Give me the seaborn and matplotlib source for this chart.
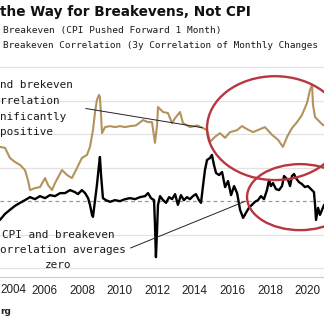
import matplotlib
matplotlib.use("Agg")
import matplotlib.pyplot as plt
from matplotlib.patches import Ellipse
import pandas as pd
import seaborn as sns

# Breakeven series (CPI pushed forward 1 month), decimal year / chart units
breakeven_year = [2003.63, 2003.90, 2004.16, 2004.43, 2004.70, 2004.96, 2005.12, 2005.23, 2005.49, 2005.76,
                  2006.03, 2006.19, 2006.40, 2006.56, 2006.93, 2007.20, 2007.46, 2007.73, 2007.99, 2008.26,
                  2008.42, 2008.58, 2008.69, 2008.79, 2008.90, 2008.95, 2009.01, 2009.06, 2009.22, 2009.49,
                  2009.75, 2010.02, 2010.29, 2010.55, 2010.87, 2011.24, 2011.51, 2011.72, 2011.88, 2011.99,
                  2012.04, 2012.31, 2012.57, 2012.79, 2012.95, 2013.21, 2013.37, 2013.74, 2014.12, 2014.44,
                  2014.65, 2014.81, 2015.07, 2015.34, 2015.61, 2015.87, 2016.25, 2016.51, 2016.78, 2017.10,
                  2017.47, 2017.73, 2018.11, 2018.43, 2018.69, 2018.91, 2019.17, 2019.44, 2019.70, 2019.97,
                  2020.13, 2020.24, 2020.29, 2020.40, 2020.61, 2020.82, 2020.88]
breakeven_level = [1.63, 1.60, 1.30, 1.18, 1.09, 0.94, 0.64, 0.34, 0.40, 0.43,
                   0.70, 0.49, 0.34, 0.55, 0.94, 0.79, 0.70, 1.00, 1.30, 1.39,
                   1.63, 2.13, 2.67, 3.03, 3.18, 3.12, 2.58, 2.04, 2.22, 2.25,
                   2.22, 2.25, 2.22, 2.25, 2.27, 2.43, 2.37, 2.37, 1.75, 2.27,
                   2.82, 2.67, 2.64, 2.34, 2.49, 2.67, 2.34, 2.22, 2.27, 2.19,
                   2.13, 1.78, 1.93, 2.04, 1.90, 2.07, 2.13, 2.25, 2.16, 2.07,
                   2.16, 2.22, 1.99, 1.84, 1.63, 1.93, 2.19, 2.37, 2.58, 2.94,
                   3.33, 3.48, 2.88, 2.52, 2.40, 2.28, 2.28]

# Breakeven correlation (3y correlation of monthly changes)
corr_year = [2003.63, 2003.90, 2004.16, 2004.43, 2004.70, 2004.96, 2005.23, 2005.49, 2005.76, 2006.03,
             2006.29, 2006.56, 2006.83, 2007.09, 2007.36, 2007.62, 2007.78, 2007.99, 2008.16, 2008.32,
             2008.42, 2008.53, 2008.58, 2008.69, 2008.79, 2008.90, 2008.95, 2009.01, 2009.11, 2009.27,
             2009.49, 2009.75, 2010.02, 2010.29, 2010.55, 2010.82, 2011.08, 2011.35, 2011.51, 2011.67,
             2011.83, 2011.88, 2011.93, 2011.99, 2012.04, 2012.15, 2012.31, 2012.47, 2012.63, 2012.79,
             2012.95, 2013.10, 2013.26, 2013.42, 2013.58, 2013.74, 2013.90, 2014.06, 2014.22, 2014.33,
             2014.44, 2014.54, 2014.65, 2014.81, 2014.91, 2015.02, 2015.13, 2015.29, 2015.45, 2015.61,
             2015.77, 2015.93, 2016.09, 2016.25, 2016.41, 2016.57, 2016.72, 2016.88, 2017.04, 2017.20,
             2017.36, 2017.52, 2017.68, 2017.84, 2017.95, 2018.05, 2018.16, 2018.32, 2018.48, 2018.64,
             2018.75, 2018.85, 2018.96, 2019.07, 2019.17, 2019.28, 2019.38, 2019.54, 2019.70, 2019.86,
             2020.02, 2020.18, 2020.34, 2020.40, 2020.45, 2020.56, 2020.66, 2020.77, 2020.88]
corr_value = [-0.55, -0.37, -0.25, -0.13, -0.04, 0.04, 0.13, 0.07, 0.16, 0.10,
              0.19, 0.16, 0.25, 0.25, 0.34, 0.28, 0.22, 0.34, 0.25, 0.10,
              -0.10, -0.40, -0.46, 0.04, 0.49, 1.09, 1.33, 0.79, 0.10, 0.04,
              -0.01, 0.04, 0.01, 0.07, 0.10, 0.07, 0.13, 0.16, 0.25, 0.10,
              0.04, -0.70, -1.66, -0.85, -0.10, 0.16, 0.04, -0.04, 0.13, 0.07,
              0.22, -0.10, 0.19, 0.04, 0.13, 0.07, 0.16, 0.22, 0.04, -0.04,
              0.49, 0.94, 1.24, 1.30, 1.39, 1.09, 0.85, 0.79, 0.88, 0.43,
              0.61, 0.19, 0.46, 0.25, -0.25, -0.49, -0.34, -0.19, -0.10, -0.01,
              0.04, 0.16, 0.07, 0.34, 0.64, 0.46, 0.55, 0.37, 0.34, 0.46,
              0.76, 0.70, 0.64, 0.46, 0.76, 0.82, 0.70, 0.58, 0.52, 0.43,
              0.46, 0.37, 0.28, -0.10, -0.55, -0.19, -0.40, -0.25, -0.10]

tick_years = [2004, 2006, 2008, 2010, 2012, 2014, 2016, 2018, 2020]
grid_levels = [-2, -1, 1, 2, 3, 4]

GOLD = "#b4925e"
RED = "#b8363f"

sns.set_theme(style="white")
plt.rcParams["font.family"] = ["DejaVu Sans"]

W, H = 324, 328
fig = plt.figure(figsize=(W / 100, H / 100), dpi=100)
ax = fig.add_axes([0, 51 / H, 1, 222 / H])

be = pd.DataFrame({"year": breakeven_year, "value": breakeven_level})
co = pd.DataFrame({"year": corr_year, "value": corr_value})

for lvl in grid_levels:
    ax.axhline(lvl, color="#e2e2e2", lw=0.9, zorder=0)
ax.axhline(0, color="#9a9a9a", lw=0.9, ls=(0, (3, 2.5)), zorder=0)

sns.lineplot(data=be, x="year", y="value", ax=ax, color=GOLD, lw=1.5, zorder=3)
sns.lineplot(data=co, x="year", y="value", ax=ax, color="black", lw=1.7, zorder=4)

tick_font = dict(fontsize=8.4, fontfamily="Liberation Sans", color="#222222")

ax.set_xlim(2003.632, 2020.875)
ax.set_ylim(-2.254, 4.373)
ax.set_xlabel("")
ax.set_ylabel("")
ax.set_yticks([])
ax.set_xticks(tick_years)
# the first year label hugs the left edge of the canvas, drawn separately below
ax.set_xticklabels([""] + [str(y) for y in tick_years[1:]], **tick_font)
ax.tick_params(axis="x", length=4, width=0.8, color="#cfcfcf", pad=2, direction="out")
for side in ["top", "left", "right"]:
    ax.spines[side].set_visible(False)
ax.spines["bottom"].set_color("#cfcfcf")
ax.spines["bottom"].set_linewidth(0.9)

# Highlight rings
ax.add_patch(Ellipse((2018.27, 2.19), 7.24, 3.10, fill=False, ec=RED, lw=1.7, zorder=5))
ax.add_patch(Ellipse((2019.60, 0.13), 5.64, 1.97, fill=False, ec=RED, lw=1.7, zorder=5))

# Leader lines for the call-outs
ax.annotate("", xy=(2014.54, 2.19), xytext=(2008.05, 2.79),
            arrowprops=dict(arrowstyle="-", color="#222222", lw=0.7), zorder=6)
ax.annotate("", xy=(2016.83, 0.04), xytext=(2010.44, -1.42),
            arrowprops=dict(arrowstyle="-", color="#222222", lw=0.7), zorder=6)

mono = dict(fontfamily="DejaVu Sans Mono", color="#1a1a1a", va="center")


def px(x, y):
    return x / W, 1 - y / H


fig.text(*px(0.5, 290), str(tick_years[0]), ha="left", va="center", **tick_font)

# Title and legend text
fig.text(*px(0, 12), "the Way for Breakevens, Not CPI", fontsize=9.8, fontweight="bold",
         color="#111111", va="center", ha="left")
fig.text(*px(3, 30), "Breakeven (CPI Pushed Forward 1 Month)", fontsize=6.8, ha="left", **mono)
fig.text(*px(3, 45), "Breakeven Correlation (3y Correlation of Monthly Changes",
         fontsize=6.75, ha="left", **mono)

# Upper call-out
for y, s in [(85, "nd brekeven"), (101, "rrelation"), (117, "nificantly"), (132, "positive")]:
    fig.text(*px(0, y), s, fontsize=7.9, ha="left", **mono)

# Lower call-out
fig.text(*px(2, 235), "CPI and breakeven", fontsize=7.9, ha="left", **mono)
fig.text(*px(0, 250), "orrelation averages", fontsize=7.9, ha="left", **mono)
fig.text(*px(58.5, 265), "zero", fontsize=7.9, ha="center", **mono)

# Source footer
fig.text(*px(0, 311), "rg", fontsize=6.5, fontweight="bold", color="#222222", va="center", ha="left")

fig.savefig("out.png", dpi=100)
